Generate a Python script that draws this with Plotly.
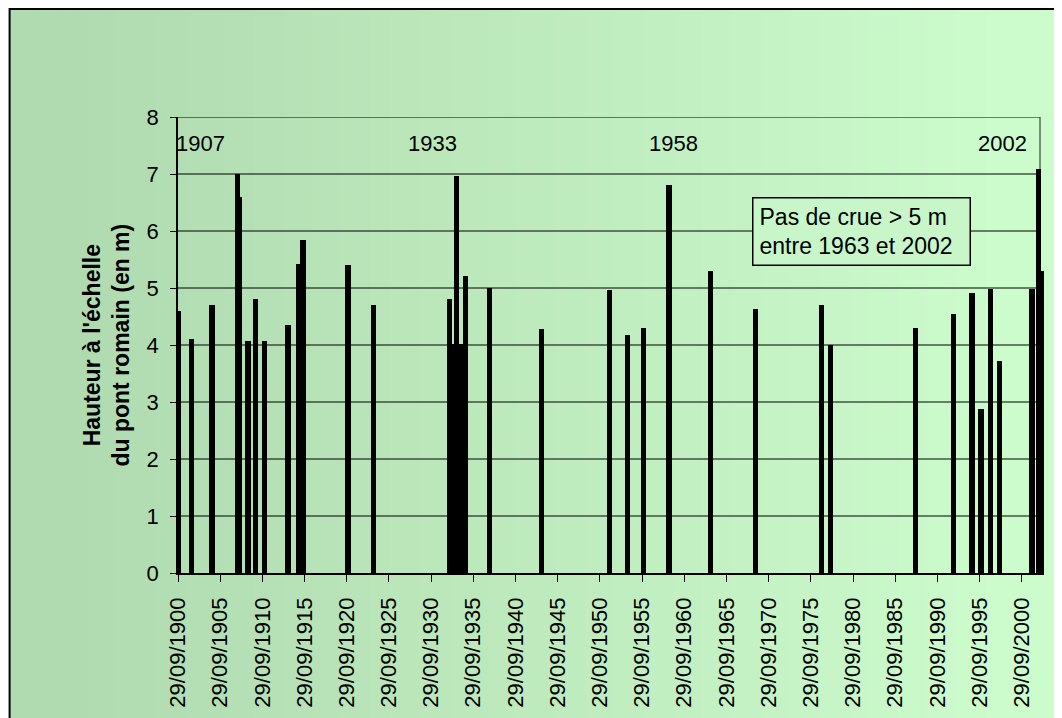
import plotly.graph_objects as go

# ---- data ----
flood_dates = [
    "1900-09-29", "1902-05-15", "1904-10-08", "1907-10-10", "1908-01-18",
    "1909-01-12", "1909-12-12", "1911-01-01", "1913-10-08", "1915-01-15",
    "1915-07-20", "1920-11-17", "1923-11-17", "1932-12-01", "1933-05-08",
    "1933-09-27", "1934-05-08", "1934-11-06", "1937-09-13", "1943-11-06",
    "1951-11-06", "1953-12-20", "1955-11-24", "1958-12-08", "1963-11-13",
    "1969-03-14", "1976-12-24", "1978-01-18", "1988-02-24", "1992-08-25",
    "1994-11-03", "1995-11-24", "1997-01-01", "1998-01-18", "2001-12-12",
    "2002-09-25", "2003-02-10",
]
flood_heights = [
    4.6, 4.1, 4.7, 7.0, 6.6,
    4.07, 4.8, 4.07, 4.35, 5.42,
    5.85, 5.4, 4.7, 4.8, 4.01,
    6.97, 4.01, 5.21, 5.0, 4.28,
    4.96, 4.17, 4.29, 6.8, 5.3,
    4.63, 4.7, 4.0, 4.29, 4.54,
    4.92, 2.87, 4.99, 3.72, 4.99,
    7.08, 5.3,
]

tick_dates = ["%d-09-29" % y for y in range(1900, 2001, 5)]
tick_labels = ["29/09/%d" % y for y in range(1900, 2001, 5)]
y_ticks = [0, 1, 2, 3, 4, 5, 6, 7, 8]

year_labels = ["1907", "1933", "1958", "2002"]
year_label_x = ["1903-06-05", "1930-11-28", "1959-06-13", "1998-05-30"]
year_label_y = 7.54

note_text = "Pas de crue > 5 m<br>entre 1963 et 2002"
note_x = "1981-10-01"
note_y = 6.0

# axis frame ends at 2002-11-30; the range runs a little further so the
# last bar (which overflows the frame in the original) stays visible
x_range = ["1900-09-29", "2003-05-14"]

# ---- geometry (figure pixel coords; page body adds an 8px offset) ----
W, H = 1062, 718
L, R, T, B = 169.5, 1036, 109, 565
FRAME_R = 1032
FONT = "Arial, Liberation Sans, sans-serif"
BAR_W = 1.95e10  # ms

def px(X):
    return (X - L) / (R - L)

def py(Y):
    return (B - Y) / (B - T)

shapes = []
# background gradient
c0 = (176, 218, 176)
c1 = (204, 251, 204)
n = 110
x_start, x_end = 1, 1075
for i in range(n):
    xa = x_start + (x_end - x_start) * i / n
    xb = x_start + (x_end - x_start) * (i + 1) / n + 0.8
    xm = (xa + xb) / 2
    t = min(max((xm - 62) / (992 - 62), 0), 1)
    col = tuple(round(c0[k] + (c1[k] - c0[k]) * t) for k in range(3))
    shapes.append(dict(type="rect", xref="paper", yref="paper",
                       x0=px(xa), x1=px(xb), y0=py(740), y1=py(1),
                       fillcolor="rgb(%d,%d,%d)" % col, line=dict(width=0),
                       layer="below"))
# outer black frame
shapes.append(dict(type="rect", xref="paper", yref="paper",
                   x0=px(1), x1=px(1090), y0=py(750), y1=py(1),
                   line=dict(color="black", width=2), fillcolor="rgba(0,0,0,0)",
                   layer="below"))
# horizontal gridlines, ending at the plot frame
for yv in y_ticks[1:]:
    shapes.append(dict(type="line", xref="paper", yref="y",
                       x0=0, x1=px(FRAME_R), y0=yv, y1=yv,
                       line=dict(color="black", width=1), layer="below"))
# plot frame right border
shapes.append(dict(type="line", xref="paper", yref="paper",
                   x0=px(FRAME_R), x1=px(FRAME_R), y0=0, y1=1,
                   line=dict(color="#404040", width=1.2), layer="below"))

fig = go.Figure()
fig.add_trace(go.Bar(x=flood_dates, y=flood_heights, width=BAR_W,
                     marker=dict(color="black", line=dict(width=0)),
                     showlegend=False))

annotations = []
for lab, lx in zip(year_labels, year_label_x):
    annotations.append(dict(x=lx, y=year_label_y, xref="x", yref="y", text=lab,
                            showarrow=False, font=dict(family=FONT, size=22, color="black"),
                            xanchor="center", yanchor="middle"))
annotations.append(dict(x=note_x, y=note_y, xref="x", yref="y", text=note_text,
                        showarrow=False, align="left",
                        font=dict(family=FONT, size=23, color="black"),
                        bgcolor="rgb(200,246,200)", bordercolor="black",
                        borderwidth=1.5, borderpad=6, width=204, height=54,
                        xanchor="center", yanchor="middle"))
annotations.append(dict(x=px(98), y=0.5, xref="paper", yref="paper",
                        text="<b>Hauteur à l'échelle<br>du pont romain (en m)</b>",
                        textangle=-90, showarrow=False,
                        font=dict(family=FONT, size=23, color="black"),
                        xanchor="center", yanchor="middle"))

fig.update_layout(
    width=W, height=H,
    margin=dict(l=L, r=W - R, t=T, b=H - B, pad=0),
    paper_bgcolor="white", plot_bgcolor="rgba(0,0,0,0)",
    shapes=shapes, annotations=annotations,
    barmode="overlay", bargap=0,
    font=dict(family=FONT, size=22, color="black"),
)
fig.update_xaxes(type="date", range=x_range, tickmode="array",
                 tickvals=tick_dates, ticktext=tick_labels, tickangle=-90,
                 ticks="outside", ticklen=7, tickcolor="black", tickwidth=1,
                 showline=True, linecolor="black", linewidth=1.5,
                 showgrid=False, zeroline=False, ticklabelstandoff=7,
                 tickfont=dict(family=FONT, size=22, color="black"))
fig.update_yaxes(range=[0, 8], tickmode="array", tickvals=y_ticks,
                 ticks="outside", ticklen=6, tickcolor="black", tickwidth=1,
                 showline=True, linecolor="black", linewidth=1.5,
                 showgrid=False, zeroline=False, ticklabelstandoff=7,
                 tickfont=dict(family=FONT, size=22, color="black"))

fig.write_html("out.html")
